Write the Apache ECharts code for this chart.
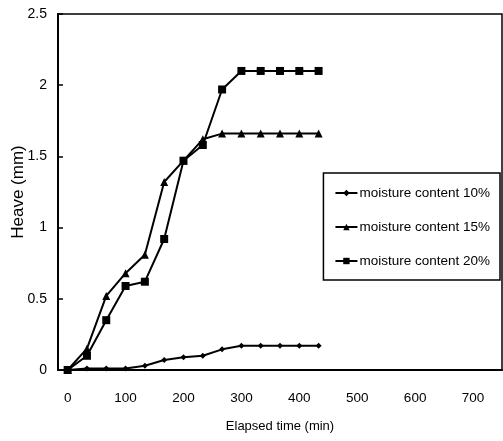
<!DOCTYPE html>
<html>
<head>
<meta charset="utf-8">
<script src="https://cdn.jsdelivr.net/npm/echarts@6/dist/echarts.min.js"></script>
<style>
html,body{margin:0;padding:0;background:#fff;}
#chart{width:503px;height:441px;}
</style>
</head>
<body>
<div id="chart"></div>
<script>
// Elapsed time categories (min)
const timeCategories = ['0','33','67','100','133','167','200','233','267','300','333','367','400','433','467','500','533','567','600','633','667','700','733'];
const yTicks = [0, 0.5, 1, 1.5, 2, 2.5];
const seriesNames = ['moisture content 10%','moisture content 15%','moisture content 20%'];
const mc10 = [0, 0.01, 0.01, 0.01, 0.03, 0.07, 0.09, 0.10, 0.145, 0.17, 0.17, 0.17, 0.17, 0.17];
const mc15 = [0, 0.15, 0.52, 0.68, 0.81, 1.32, 1.47, 1.62, 1.66, 1.66, 1.66, 1.66, 1.66, 1.66];
const mc20 = [0, 0.10, 0.35, 0.59, 0.62, 0.92, 1.47, 1.58, 1.97, 2.10, 2.10, 2.10, 2.10, 2.10];

const font = '"Liberation Sans Narrow","Liberation Sans",Arial,sans-serif';
const chart = echarts.init(document.getElementById('chart'), null, {renderer:'canvas'});
const mk = (name, data, symbol, size) => ({
  name, type:'line', data, symbol, symbolSize:size, showSymbol:true,
  lineStyle:{color:'#000', width:2}, itemStyle:{color:'#000'},
  animation:false
});
chart.setOption({
  animation:false,
  backgroundColor:'#fff',
  grid:{left:58, right:1, top:14, bottom:71, containLabel:false, outerBoundsMode:'none',
        show:true, borderColor:'#000', borderWidth:1.5, backgroundColor:'transparent'},
  legend:{
    orient:'vertical', right:3, top:173,
    data:seriesNames,
    backgroundColor:'#fff', borderColor:'#000', borderWidth:1.5,
    padding:[13,10,12,11], itemGap:20, itemWidth:22, itemHeight:8,
    textStyle:{fontFamily:font, fontSize:13.5, color:'#000', padding:[0,0,0,-3]}
  },
  xAxis:{
    type:'category', data:timeCategories, boundaryGap:true,
    name:'Elapsed time (min)', nameLocation:'middle', nameGap:50, nameMoveOverlap:false,
    nameTextStyle:{fontFamily:font, fontSize:13, color:'#000'},
    axisLine:{lineStyle:{color:'#000', width:2}},
    axisTick:{inside:true, length:6, interval:0, lineStyle:{color:'#000', width:1.5}},
    axisLabel:{interval:2, margin:21, fontFamily:font, fontSize:13.5, color:'#000'},
    splitLine:{show:false}
  },
  yAxis:{
    type:'value', min:yTicks[0], max:yTicks[yTicks.length-1], interval:0.5,
    name:'Heave (mm)', nameLocation:'middle', nameGap:31, nameMoveOverlap:false,
    nameTextStyle:{fontFamily:font, fontSize:17, color:'#000'},
    axisLine:{show:true, lineStyle:{color:'#000', width:2}},
    axisTick:{show:true, inside:true, length:5, lineStyle:{color:'#000', width:1.5}},
    axisLabel:{margin:11, fontFamily:font, fontSize:14, color:'#000'},
    splitLine:{show:false}
  },
  series:[
    mk(seriesNames[0], mc10, 'diamond', 6),
    mk(seriesNames[1], mc15, 'triangle', 8),
    mk(seriesNames[2], mc20, 'rect', 8)
  ]
});
</script>
</body>
</html>
